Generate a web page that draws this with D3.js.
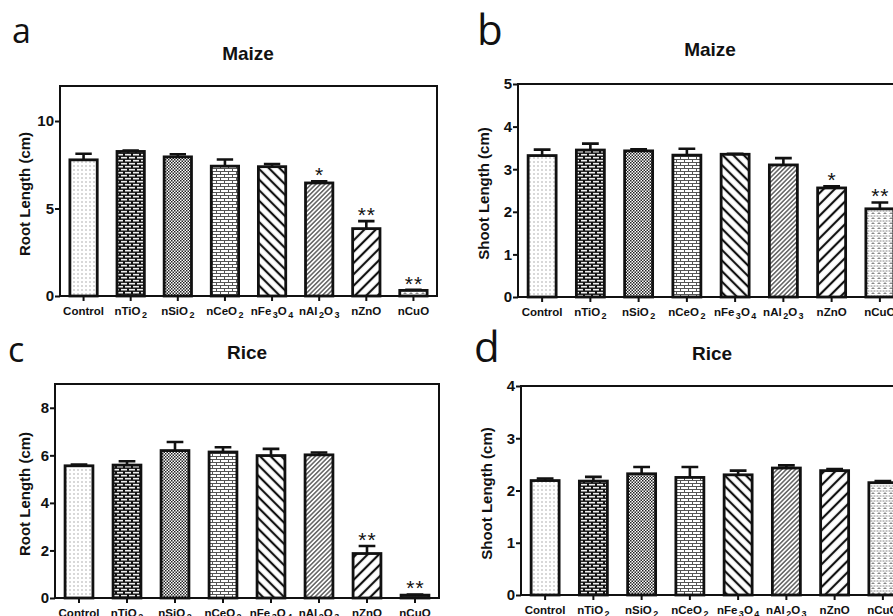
<!doctype html>
<html>
<head>
  <meta charset="utf-8">
  <title>Root and shoot length</title>
  <style>
    body { margin: 0; background: #fff; }
    svg text { font-family: "Liberation Sans", Arial, sans-serif; }
  </style>
</head>
<body>
  <div class="graphContainer"></div>
  <script src="https://cdn.jsdelivr.net/npm/d3@7/dist/d3.min.js"></script>
  <script>

let categories = ["Control", "nTiO2", "nSiO2", "nCeO2", "nFe3O4", "nAl2O3", "nZnO", "nCuO"];

let rootMaize    = [7.78, 8.26, 7.95, 7.42, 7.39, 6.46, 3.85, 0.32];
let rootMaizeErr = [0.35, 0.05, 0.15, 0.38, 0.15, 0.10, 0.43, 0.04];
let rootMaizeSig = ["", "", "", "", "", "*", "**", "**"];

let shootMaize    = [3.32, 3.45, 3.43, 3.33, 3.35, 3.10, 2.56, 2.07];
let shootMaizeErr = [0.14, 0.15, 0.04, 0.15, 0.01, 0.16, 0.04, 0.15];
let shootMaizeSig = ["", "", "", "", "", "", "*", "**"];

let rootRice    = [5.56, 5.59, 6.20, 6.14, 5.99, 6.02, 1.87, 0.12];
let rootRiceErr = [0.05, 0.16, 0.36, 0.20, 0.28, 0.10, 0.32, 0.03];
let rootRiceSig = ["", "", "", "", "", "", "**", "**"];

let shootRice    = [2.19, 2.18, 2.32, 2.25, 2.30, 2.43, 2.38, 2.15];
let shootRiceErr = [0.04, 0.08, 0.13, 0.20, 0.08, 0.05, 0.03, 0.03];
let shootRiceSig = ["", "", "", "", "", "", "", ""];

let rootMaizeTicks  = [0, 5, 10];
let shootMaizeTicks = [0, 1, 2, 3, 4, 5];
let rootRiceTicks   = [0, 2, 4, 6, 8];
let shootRiceTicks  = [0, 1, 2, 3, 4];

var w = 893, h = 616;

var svg = d3.select(".graphContainer")
    .append("svg")
    .attr("width", w)
    .attr("height", h);

var defs = svg.append("defs");

// fill patterns, one per treatment
function makePatterns() {
    // 0: sparse dots
    let p = defs.append("pattern").attr("id", "pat0").attr("patternUnits", "userSpaceOnUse")
        .attr("width", 4).attr("height", 4);
    p.append("rect").attr("width", 4).attr("height", 4).attr("fill", "#fff");
    p.append("rect").attr("x", 1.5).attr("y", 1.5).attr("width", 1).attr("height", 1).attr("fill", "#666");

    // 1: dark bricks
    p = defs.append("pattern").attr("id", "pat1").attr("patternUnits", "userSpaceOnUse")
        .attr("width", 8).attr("height", 6);
    p.append("rect").attr("width", 8).attr("height", 6).attr("fill", "#111");
    p.append("rect").attr("x", 1).attr("y", 0.9).attr("width", 6).attr("height", 1.6).attr("fill", "#eee");
    p.append("rect").attr("x", -3).attr("y", 3.9).attr("width", 6).attr("height", 1.6).attr("fill", "#eee");
    p.append("rect").attr("x", 5).attr("y", 3.9).attr("width", 6).attr("height", 1.6).attr("fill", "#eee");

    // 2: checker
    p = defs.append("pattern").attr("id", "pat2").attr("patternUnits", "userSpaceOnUse")
        .attr("width", 3).attr("height", 3);
    p.append("rect").attr("width", 3).attr("height", 3).attr("fill", "#fff");
    p.append("rect").attr("width", 1.5).attr("height", 1.5).attr("fill", "#222");
    p.append("rect").attr("x", 1.5).attr("y", 1.5).attr("width", 1.5).attr("height", 1.5).attr("fill", "#222");

    // 3: light bricks
    p = defs.append("pattern").attr("id", "pat3").attr("patternUnits", "userSpaceOnUse")
        .attr("width", 8).attr("height", 6);
    p.append("rect").attr("width", 8).attr("height", 6).attr("fill", "#fff");
    p.append("path")
        .attr("d", "M0,0.5H8M0,3.5H8M0.5,0.5V3.5M4.5,3.5V6.5")
        .attr("stroke", "#555").attr("stroke-width", 1).attr("fill", "none");

    // 4: wide back-slash lines, 5: dense slash lines, 6: wide slash lines
    let hatch = [
        {id: "pat4", size: 7.5, sw: 2.2, rot: -45},
        {id: "pat5", size: 3.2, sw: 1.0, rot: 45},
        {id: "pat6", size: 8, sw: 2.2, rot: 45}
    ];
    hatch.forEach(function(d) {
        let q = defs.append("pattern").attr("id", d.id).attr("patternUnits", "userSpaceOnUse")
            .attr("width", d.size).attr("height", d.size)
            .attr("patternTransform", `rotate(${d.rot})`);
        q.append("rect").attr("width", d.size).attr("height", d.size).attr("fill", "#fff");
        q.append("line").attr("x1", d.size / 2).attr("x2", d.size / 2)
            .attr("y1", 0).attr("y2", d.size)
            .attr("stroke", "#111").attr("stroke-width", d.sw);
    });

    // 7: grey speckle
    p = defs.append("pattern").attr("id", "pat7").attr("patternUnits", "userSpaceOnUse")
        .attr("width", 6).attr("height", 5);
    p.append("rect").attr("width", 6).attr("height", 5).attr("fill", "#fff");
    p.append("path").attr("d", "M0.5,1H2.5M3.5,1H5.5M1.5,3.5H4.5")
        .attr("stroke", "#888").attr("stroke-width", 1.2);
    p.append("rect").attr("x", 2.5).attr("y", 2).attr("width", 1).attr("height", 1).attr("fill", "#999");
}
makePatterns();

function drawPanel(cfg) {
    let g = svg.append("g");

    let x = d3.scaleBand()
        .domain(categories)
        .range([cfg.left, cfg.right])
        .paddingInner(0.42)
        .paddingOuter(0.21);

    let y = d3.scaleLinear()
        .domain(cfg.domain)
        .range([cfg.bottom, cfg.top]);

    // frame
    g.append("rect")
        .attr("x", cfg.left).attr("y", cfg.top)
        .attr("width", cfg.right - cfg.left).attr("height", cfg.bottom - cfg.top)
        .attr("fill", "none").attr("stroke", "#111").attr("stroke-width", 2);

    // bars
    g.selectAll(".bar")
        .data(cfg.values)
        .enter().append("rect")
        .attr("x", (d, i) => x(categories[i]))
        .attr("y", d => y(d))
        .attr("width", x.bandwidth())
        .attr("height", d => y(0) - y(d))
        .attr("fill", (d, i) => `url(#pat${i})`)
        .attr("stroke", "#111")
        .attr("stroke-width", 2.8);

    // error bars (upper only)
    let cap = x.bandwidth() * 0.3;
    cfg.values.forEach(function(v, i) {
        let cx = x(categories[i]) + x.bandwidth() / 2;
        let top = y(v + cfg.errs[i]);
        g.append("path")
            .attr("d", `M${cx},${y(v)}V${top}M${cx - cap},${top}H${cx + cap}`)
            .attr("stroke", "#111").attr("stroke-width", 2.6).attr("fill", "none");
        if (cfg.sig[i]) {
            g.append("text")
                .attr("x", cx + 0.5).attr("y", top + 1)
                .attr("text-anchor", "middle")
                .attr("font-size", 21)
                .attr("letter-spacing", 1)
                .attr("fill", "#111")
                .text(cfg.sig[i]);
        }
    });

    // y axis
    let yAxis = g.append("g")
        .attr("transform", `translate(${cfg.left},0)`)
        .call(d3.axisLeft(y).tickValues(cfg.ticks).tickFormat(d3.format("d")).tickSize(5).tickSizeOuter(0));
    yAxis.select(".domain").remove();
    yAxis.selectAll("line").attr("stroke", "#111").attr("stroke-width", 2);
    yAxis.selectAll("text")
        .attr("font-size", 15).attr("font-weight", "bold").attr("fill", "#111")
        .attr("dx", 2);

    // x axis ticks + labels with subscripts
    let xAxis = g.append("g")
        .attr("transform", `translate(0,${cfg.bottom})`)
        .call(d3.axisBottom(x).tickSize(5).tickSizeOuter(0).tickFormat(""));
    xAxis.select(".domain").remove();
    xAxis.selectAll("line").attr("stroke", "#111").attr("stroke-width", 2);

    categories.forEach(function(c) {
        let t = g.append("text")
            .attr("x", x(c) + x.bandwidth() / 2)
            .attr("y", cfg.bottom + 19)
            .attr("text-anchor", "middle")
            .attr("font-size", 11.5)
            .attr("font-weight", "bold")
            .attr("fill", "#111");
        let lowered = false;
        c.split(/(\d)/).filter(s => s.length).forEach(function(s) {
            if (/\d/.test(s)) {
                t.append("tspan").attr("font-size", 9).attr("dx", 1.5).attr("dy", 3).text(s);
                lowered = true;
            } else {
                let ts = t.append("tspan").text(s);
                if (lowered) { ts.attr("dy", -3); lowered = false; }
            }
        });
    });

    // y axis title
    g.append("text")
        .attr("transform", `translate(${cfg.ylabelX},${(cfg.top + cfg.bottom) / 2 + 3}) rotate(-90)`)
        .attr("text-anchor", "middle")
        .attr("font-size", 15).attr("font-weight", "bold").attr("fill", "#111")
        .text(cfg.ylabel);

    // panel title
    g.append("text")
        .attr("x", cfg.titleX).attr("y", cfg.titleY)
        .attr("text-anchor", "middle")
        .attr("font-size", 19).attr("font-weight", "bold").attr("fill", "#111")
        .text(cfg.title);

    // panel letter
    g.append("text")
        .attr("x", cfg.letterX).attr("y", cfg.letterY)
        .attr("font-size", cfg.letterSize).attr("fill", "#111")
        .style("font-family", "'Open Sans', sans-serif")
        .text(cfg.letter);
}

drawPanel({
    values: rootMaize, errs: rootMaizeErr, sig: rootMaizeSig,
    domain: [0, 12], ticks: rootMaizeTicks,
    left: 60, right: 437, top: 86, bottom: 296,
    ylabel: "Root Length (cm)", ylabelX: 30,
    title: "Maize", titleX: 248, titleY: 60,
    letter: "a", letterX: 12, letterY: 43, letterSize: 34
});

drawPanel({
    values: shootMaize, errs: shootMaizeErr, sig: shootMaizeSig,
    domain: [0, 5], ticks: shootMaizeTicks,
    left: 518, right: 904, top: 84, bottom: 297,
    ylabel: "Shoot Length (cm)", ylabelX: 489,
    title: "Maize", titleX: 710, titleY: 56,
    letter: "b", letterX: 477, letterY: 45, letterSize: 42
});

drawPanel({
    values: rootRice, errs: rootRiceErr, sig: rootRiceSig,
    domain: [0, 9], ticks: rootRiceTicks,
    left: 55, right: 439, top: 384, bottom: 598,
    ylabel: "Root Length (cm)", ylabelX: 30,
    title: "Rice", titleX: 247, titleY: 359,
    letter: "c", letterX: 8, letterY: 362, letterSize: 34
});

drawPanel({
    values: shootRice, errs: shootRiceErr, sig: shootRiceSig,
    domain: [0, 4], ticks: shootRiceTicks,
    left: 521, right: 907, top: 386, bottom: 595,
    ylabel: "Shoot Length (cm)", ylabelX: 492,
    title: "Rice", titleX: 712, titleY: 360,
    letter: "d", letterX: 474, letterY: 362, letterSize: 42
});

  </script>
</body>
</html>
